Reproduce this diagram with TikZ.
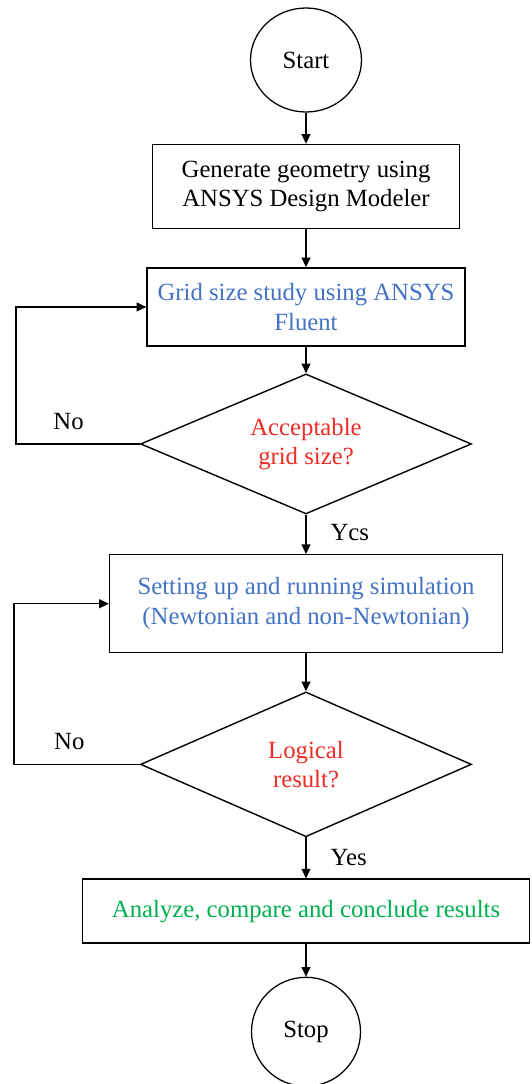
\documentclass[tikz,border=0pt]{standalone}
\usepackage{fontspec}
\setmainfont{Liberation Serif}
\usepackage{xcolor}
\usepackage{tikz}
\usetikzlibrary{arrows.meta,positioning,shapes.geometric}
\definecolor{stepblue}{HTML}{4472C4}
\definecolor{askred}{HTML}{EE2B24}
\definecolor{endgreen}{HTML}{00B050}

\begin{document}
\begin{tikzpicture}[
  node distance=0.9cm,
  every node/.style={font=\fontsize{17.6}{21}\selectfont},
  term/.style={draw, ellipse, line width=0.9pt, inner sep=0pt},
  procbox/.style={draw, rectangle, line width=1pt, align=center, inner sep=0pt},
  decide/.style={draw, diamond, aspect=2.4, line width=1pt, align=center, inner sep=0pt,
                 minimum width=8.275cm, text=askred},
  lbl/.style={inner sep=0pt},
  arr/.style={-{Triangle[length=2.4mm, width=2.2mm]}, line width=0.9pt}
]
  \useasboundingbox (0,0) rectangle (13.275,-27.1);
  \node[term, minimum width=2.775cm, minimum height=2.6cm] (start) at (7.65,-1.5) {Start};
  \node[procbox, below=0.78cm of start, minimum width=7.675cm, minimum height=2.1cm] (geom)
    {Generate geometry using\\ANSYS Design Modeler};
  \node[procbox, below=0.95cm of geom, minimum width=7.95cm, minimum height=1.95cm, text=stepblue] (grid)
    {Grid size study using ANSYS\\Fluent};
  \node[decide, below=0.665cm of grid, minimum height=3.5cm] (gridok)
    {Acceptable\\grid size?};
  \node[procbox, below=0.985cm of gridok, minimum width=9.825cm, minimum height=2.45cm, text=stepblue] (sim)
    {Setting up and running simulation\\(Newtonian and non-Newtonian)};
  \node[decide, below=0.945cm of sim, minimum height=3.62cm] (logic)
    {Logical\\result?};
  \node[procbox, below=1.025cm of logic, minimum width=11.175cm, minimum height=1.6cm, text=endgreen] (concl)
    {Analyze, compare and conclude results};
  \node[term, below=0.82cm of concl, minimum size=2.725cm] (stop) {Stop};

  \coordinate (backA) at (0.4,0);
  \coordinate (backB) at (0.35,0);

  \draw[arr] (start) -- (geom);
  \draw[arr] (geom) -- (grid);
  \draw[arr] (grid) -- (gridok);
  \draw[arr] (gridok) -- node[lbl, pos=0.45, right=0.6cm] {Ycs} (sim);
  \draw[arr] (sim) -- (logic);
  \draw[arr] (logic) -- node[lbl, right=0.6cm] {Yes} (concl);
  \draw[arr] (concl) -- (stop);
  \draw[arr] (gridok.west) -- node[lbl, pos=0.575, above=0.35cm] {No} (gridok.west -| backA) |- (grid.west);
  \draw[arr] (logic.west) -- node[lbl, pos=0.56, above=0.35cm] {No} (logic.west -| backB) |- (sim.west);
\end{tikzpicture}
\end{document}
